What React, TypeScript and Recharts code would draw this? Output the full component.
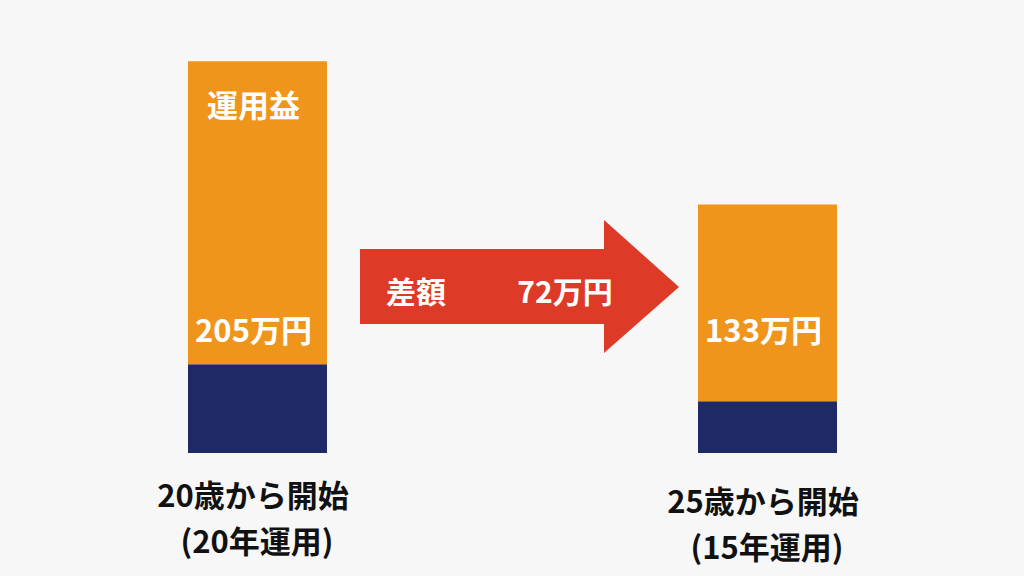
import React from 'react';
import { BarChart, Bar, XAxis, YAxis, LabelList } from 'recharts';

// 開始年齢ごとの元本と運用益（万円）
const startLabels = ['20歳から開始', '25歳から開始'];
const periodLabels = ['(20年運用)', '(15年運用)'];
const principal = [60, 35];
const gain = [205, 133];
const gainCaption = ['運用益', ''];

const data = startLabels.map((name, i) => ({
  name,
  period: periodLabels[i],
  principal: principal[i],
  gain: gain[i],
  caption: gainCaption[i],
}));

const diff = gain[0] - gain[1];

const FONT = '"Noto Sans CJK JP", "Noto Sans", sans-serif';
const ORANGE = '#f0951b';
const NAVY = '#1f2966';
const RED = '#dd3a27';

const W = 1024;
const H = 576;
const VALUE_Y = 328;

const CategoryTick = (props: any) => {
  const { x, y, payload, index } = props;
  const shift = index === 1 ? 6 : 0;
  return (
    <g transform={`translate(${x},${y})`}>
      <text x={-4} y={32 + shift} textAnchor="middle" dominantBaseline="central"
        fontFamily={FONT} fontWeight={700} fontSize={31} fill="#111">
        {payload.value}
      </text>
      <text x={0} y={78 + shift} textAnchor="middle" dominantBaseline="central"
        fontFamily={FONT} fontWeight={700} fontSize={31} fill="#111">
        {periodLabels[index]}
      </text>
    </g>
  );
};

const ValueLabel = (props: any) => {
  const { x, width, value } = props;
  return (
    <text x={x + width / 2 - 4} y={VALUE_Y} textAnchor="middle" dominantBaseline="central"
      fontFamily={FONT} fontWeight={700} fontSize={31} fill="#fff">
      {`${value}万円`}
    </text>
  );
};

const CaptionLabel = (props: any) => {
  const { x, y, width, value } = props;
  if (!value) return null;
  return (
    <text x={x + width / 2 - 4} y={y + 42} textAnchor="middle" dominantBaseline="central"
      fontFamily={FONT} fontWeight={700} fontSize={31} fill="#fff">
      {value}
    </text>
  );
};

// 差額を示す矢印
const DiffArrow = () => (
  <svg width={W} height={H} style={{ position: 'absolute', left: 0, top: 0, pointerEvents: 'none' }}>
    <polygon
      points="360,249 604,249 604,220 679,287 604,353 604,324 360,324"
      fill={RED}
    />
    <text x={416} y={290} textAnchor="middle" dominantBaseline="central"
      fontFamily={FONT} fontWeight={700} fontSize={30} fill="#fff">
      差額
    </text>
    <text x={565} y={290} textAnchor="middle" dominantBaseline="central"
      fontFamily={FONT} fontWeight={700} fontSize={30} fill="#fff">
      {`${diff}万円`}
    </text>
  </svg>
);

export default function App() {
  return (
    <div style={{ position: 'fixed', left: 0, top: 0, width: W, height: H, background: '#f7f7f7' }}>
      <BarChart width={W} height={H} data={data} margin={{ top: 39, right: 2, bottom: 23, left: 2 }}>
        <XAxis dataKey="name" axisLine={false} tickLine={false} height={100} tick={<CategoryTick />} interval={0} />
        <YAxis hide domain={[0, 280]} />
        <Bar dataKey="principal" stackId="a" fill={NAVY} barSize={139} isAnimationActive={false} />
        <Bar dataKey="gain" stackId="a" fill={ORANGE} barSize={139} isAnimationActive={false}>
          <LabelList dataKey="gain" content={<ValueLabel />} />
          <LabelList dataKey="caption" content={<CaptionLabel />} />
        </Bar>
      </BarChart>
      <DiffArrow />
    </div>
  );
}
